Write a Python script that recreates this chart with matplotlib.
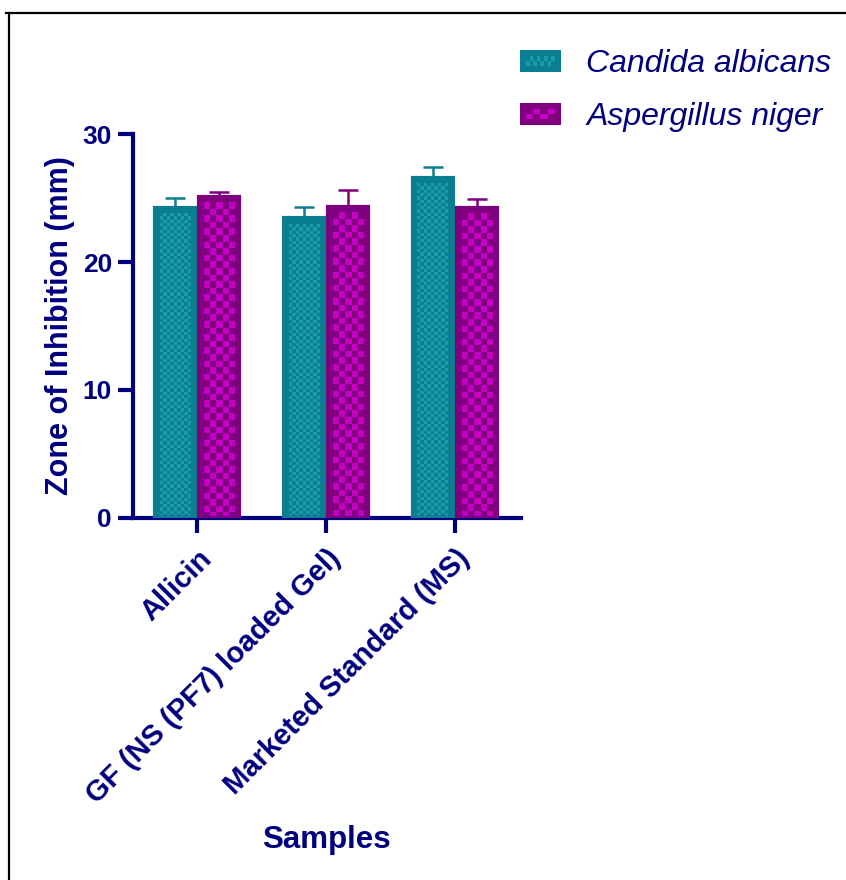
import numpy as np
import matplotlib
matplotlib.use("Agg")
import matplotlib.pyplot as plt
from matplotlib.patches import Rectangle, Patch
from matplotlib.lines import Line2D
from matplotlib.colors import ListedColormap
from matplotlib.legend_handler import HandlerBase

plt.rcParams['font.family'] = ['Liberation Sans', 'DejaVu Sans']

samples = ["Allicin", "GF (NS (PF7) loaded Gel)", "Marketed Standard (MS)"]
series = ["Candida albicans", "Aspergillus niger"]
candida_mean = [24.2, 23.4, 26.6]
candida_sd = [0.8, 0.9, 0.85]
aspergillus_mean = [25.1, 24.3, 24.2]
aspergillus_sd = [0.4, 1.3, 0.7]
yticks = [0, 10, 20, 30]

NAVY = "#00007F"
styles = [
    dict(dark="#0A7F92", light="#1B9AAD", edge="#0A7E8F", cell=3.3),
    dict(dark="#800080", light="#C400C4", edge="#7E007E", cell=6.6),
]


class CheckerHandler(HandlerBase):
    """Legend key: dark box with a band of light checker cells."""

    def __init__(self, style, ncells):
        super().__init__()
        self.style = style
        self.ncells = ncells

    def create_artists(self, legend, orig_handle, xdescent, ydescent,
                       width, height, fontsize, trans):
        st = self.style
        arts = [Rectangle((-xdescent, -ydescent), width, height,
                          facecolor=st["dark"], edgecolor="none",
                          transform=trans)]
        inset = width * 0.15
        cw = (width - 2 * inset) / self.ncells
        ch = height * 0.22
        y0 = -ydescent + height / 2 - ch
        for row in range(2):
            for c in range(self.ncells):
                if (c + row) % 2 == 0:
                    arts.append(Rectangle((-xdescent + inset + c * cw, y0 + row * ch),
                                          cw, ch, facecolor=st["light"],
                                          edgecolor="none", transform=trans))
        return arts


fig = plt.figure(figsize=(8.46, 8.80), dpi=100)
ax = fig.add_axes([0.157, 0.4114, 0.4585, 0.4363])

x = np.arange(len(samples))
width = 0.31
offsets = [-0.171, 0.171]
means = [candida_mean, aspergillus_mean]
sds = [candida_sd, aspergillus_sd]

XLIM = (-0.5, 2.51)
ax.set_xlim(*XLIM)
ax.set_ylim(0, 30)

# pixel scale of the axes, used to size the checker cells
fig.canvas.draw()
bbox = ax.get_window_extent()
px_per_x = bbox.width / (XLIM[1] - XLIM[0])
px_per_y = bbox.height / 30.0

for s, (m, sd, off, st) in enumerate(zip(means, sds, offsets, styles)):
    bars = ax.bar(x + off, m, width, color=st["dark"], edgecolor="none",
                  zorder=2, label=series[s])
    cmap = ListedColormap([st["dark"], st["light"]])
    for bar in bars:
        bx, bw, bh = bar.get_x(), bar.get_width(), bar.get_height()
        ix = 4.5 / px_per_x
        iy = 5.5 / px_per_y
        cw = st["cell"] / px_per_x
        ch = st["cell"] / px_per_y
        ncols = max(1, int(round((bw - 2 * ix) / cw)))
        cw = (bw - 2 * ix) / ncols
        nrows = int(np.ceil((bh - iy) / ch))
        checker = (np.add.outer(np.arange(nrows), np.arange(ncols)) % 2).astype(float)
        top = min(nrows * ch, bh - iy)
        im = ax.imshow(checker, cmap=cmap, origin="lower", interpolation="nearest",
                       extent=(bx + ix, bx + bw - ix, top - nrows * ch, top),
                       aspect="auto", zorder=2.5)
        im.set_clip_path(bar)
    ax.bar(x + off, m, width, fill=False, edgecolor=st["edge"], linewidth=3.0,
           zorder=3)
    ax.errorbar(x + off, m, yerr=[np.zeros(len(sd)), sd], fmt="none",
                ecolor=st["edge"], elinewidth=1.8, capsize=7, capthick=1.8,
                zorder=2.8)

ax.set_xlim(*XLIM)
ax.set_ylim(0, 30)

for side in ["top", "right"]:
    ax.spines[side].set_visible(False)
for side in ["left", "bottom"]:
    ax.spines[side].set_color(NAVY)
    ax.spines[side].set_linewidth(3.0)

ax.set_yticks(yticks)
ax.set_xticks(x)
ax.tick_params(axis="both", colors=NAVY, width=3.0, length=11, labelsize=19,
               pad=4)
ax.tick_params(axis="x", pad=8)
for lbl in ax.get_yticklabels():
    lbl.set_fontweight("bold")
ax.set_xticklabels(samples, rotation=45, ha="right", va="top",
                   rotation_mode="anchor", fontweight="bold", fontsize=21,
                   color=NAVY)

ax.set_ylabel("Zone of Inhibition (mm)", fontsize=22, fontweight="bold",
              color=NAVY)
ax.yaxis.set_label_coords(-0.148, 0.5)
fig.text(0.386, 0.045, "Samples", ha="center", va="center", fontsize=22.5,
         fontweight="bold", color=NAVY)

handles = [Patch(facecolor=st["dark"]) for st in styles]
leg = fig.legend(handles, series, loc="upper left",
                 bbox_to_anchor=(0.6147, 0.944), frameon=False,
                 prop=dict(size=23, style="italic"), handlelength=1.28,
                 handleheight=0.64, handletextpad=0.8, labelspacing=0.72,
                 borderpad=0, borderaxespad=0,
                 handler_map={handles[0]: CheckerHandler(styles[0], 8),
                              handles[1]: CheckerHandler(styles[1], 4)})
for t in leg.get_texts():
    t.set_color(NAVY)

# outer frame lines on the top and left
fig.add_artist(Line2D([0.0072, 1.0], [0.985, 0.985], color="black",
                      linewidth=1.6, transform=fig.transFigure))
fig.add_artist(Line2D([0.0107, 0.0107], [0.0, 0.985], color="black",
                      linewidth=1.6, transform=fig.transFigure))

fig.savefig("out.png", dpi=100)
